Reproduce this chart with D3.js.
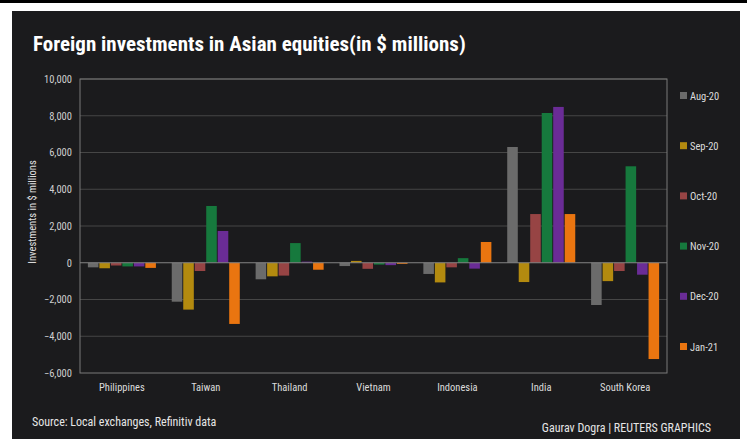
<!DOCTYPE html>
<html>
<head>
<meta charset="utf-8">
<script src="https://cdn.jsdelivr.net/npm/d3@7"></script>
<style>
  html, body { margin: 0; padding: 0; background: #fff; }
  svg { display: block; }
  text { font-family: 'Liberation Sans Narrow', 'Roboto Condensed', 'DejaVu Sans Condensed', 'Roboto', sans-serif; }
</style>
</head>
<body>
<div id="chart"></div>
<script>
const countries = ['Philippines', 'Taiwan', 'Thailand', 'Vietnam', 'Indonesia', 'India', 'South Korea'];
const months = ['Aug-20', 'Sep-20', 'Oct-20', 'Nov-20', 'Dec-20', 'Jan-21'];
const colors = ['#6b6b6b', '#b38a0f', '#974444', '#16793d', '#6a2c96', '#ea7510'];

const aug20 = [-250, -2120, -900, -180, -610, 6300, -2300];
const sep20 = [-300, -2550, -740, 100, -1070, -1050, -1000];
const oct20 = [-150, -450, -700, -330, -250, 2650, -450];
const nov20 = [-200, 3090, 1070, -100, 250, 8150, 5250];
const dec20 = [-200, 1730, 60, -130, -320, 8480, -650];
const jan21 = [-280, -3330, -380, -60, 1130, 2650, -5240];

const yTicks = [-6000, -4000, -2000, 0, 2000, 4000, 6000, 8000, 10000];

const series = [aug20, sep20, oct20, nov20, dec20, jan21];
const rows = countries.map((c, i) => ({
  country: c,
  values: months.map((m, j) => ({ month: m, value: series[j][i] }))
}));

const width = 747, height = 439;
const margin = { top: 79, right: 80, bottom: 66, left: 80 };

const svg = d3.select('#chart').append('svg')
  .attr('width', width)
  .attr('height', height);

// page frame
svg.append('rect').attr('x', 0).attr('y', 0).attr('width', width).attr('height', 3).attr('fill', '#000');
svg.append('rect').attr('x', 12).attr('y', 11).attr('width', 728).attr('height', height - 11).attr('fill', '#1b1b1d');

const x0 = d3.scaleBand()
  .domain(countries)
  .range([margin.left, width - margin.right])
  .paddingInner(0.167)
  .paddingOuter(0.083);

const x1 = d3.scaleBand()
  .domain(months)
  .range([0, x0.bandwidth()])
  .padding(0.08);

const y = d3.scaleLinear()
  .domain([-6000, 10000])
  .range([height - margin.bottom, margin.top]);

const color = d3.scaleOrdinal().domain(months).range(colors);

// grid
svg.append('g')
  .selectAll('line')
  .data(yTicks.filter(d => d !== 0 && d !== -6000))
  .join('line')
    .attr('x1', margin.left)
    .attr('x2', width - margin.right)
    .attr('y1', d => y(d))
    .attr('y2', d => y(d))
    .attr('stroke', '#464646')
    .attr('stroke-width', 1);

// y axis labels
const yAxis = svg.append('g')
  .attr('transform', `translate(${margin.left},0)`)
  .call(d3.axisLeft(y).tickValues(yTicks).tickSize(0).tickPadding(8).tickFormat(d3.format(',')));
yAxis.select('.domain').remove();
yAxis.selectAll('text')
  .attr('fill', '#cfcfcf')
  .style('font-size', '10.5px');

// bars
svg.append('g')
  .selectAll('g')
  .data(rows)
  .join('g')
    .attr('transform', d => `translate(${x0(d.country)},0)`)
  .selectAll('rect')
  .data(d => d.values)
  .join('rect')
    .attr('x', d => x1(d.month))
    .attr('width', x1.bandwidth())
    .attr('y', d => y(Math.max(0, d.value)))
    .attr('height', d => Math.abs(y(d.value) - y(0)))
    .attr('fill', d => color(d.month));

// plot box and zero line
svg.append('rect')
  .attr('x', margin.left)
  .attr('y', y(10000))
  .attr('width', width - margin.right - margin.left)
  .attr('height', y(-6000) - y(10000))
  .attr('fill', 'none')
  .attr('stroke', '#7a7a7a')
  .attr('stroke-width', 1);
svg.append('line')
  .attr('x1', margin.left)
  .attr('x2', width - margin.right)
  .attr('y1', y(0))
  .attr('y2', y(0))
  .attr('stroke', '#858585')
  .attr('stroke-width', 1);

// x axis labels
const xAxis = svg.append('g')
  .attr('transform', `translate(0,${height - margin.bottom})`)
  .call(d3.axisBottom(x0).tickSize(0).tickPadding(11));
xAxis.select('.domain').remove();
xAxis.selectAll('text')
  .attr('fill', '#dcdcdc')
  .style('font-size', '10.5px');

// y title
svg.append('text')
  .attr('transform', 'translate(36,212) rotate(-90)')
  .attr('text-anchor', 'middle')
  .attr('fill', '#e0e0e0')
  .style('font-size', '10.5px')
  .text('Investments in $ millions');

// legend
const legend = svg.append('g')
  .selectAll('g')
  .data(months)
  .join('g')
    .attr('transform', (d, i) => `translate(680,${96 + i * 50.2})`);
legend.append('rect')
  .attr('x', 0).attr('y', -4)
  .attr('width', 7).attr('height', 7)
  .attr('fill', d => color(d));
legend.append('text')
  .attr('x', 10).attr('y', 0)
  .attr('dy', '0.35em')
  .attr('fill', '#dcdcdc')
  .style('font-size', '10.5px')
  .text(d => d);

// title and notes
svg.append('text')
  .attr('x', 33).attr('y', 51)
  .attr('fill', '#fff')
  .style('font-size', '21px')
  .style('font-weight', 'bold')
  .text('Foreign investments in Asian equities(in $ millions)');

svg.append('text')
  .attr('x', 32).attr('y', 426)
  .attr('fill', '#e6e6e6')
  .style('font-size', '12px')
  .text('Source: Local exchanges, Refinitiv data');

svg.append('text')
  .attr('x', 711).attr('y', 432)
  .attr('text-anchor', 'end')
  .attr('fill', '#e6e6e6')
  .style('font-size', '12px')
  .text('Gaurav Dogra | REUTERS GRAPHICS');
</script>
</body>
</html>
